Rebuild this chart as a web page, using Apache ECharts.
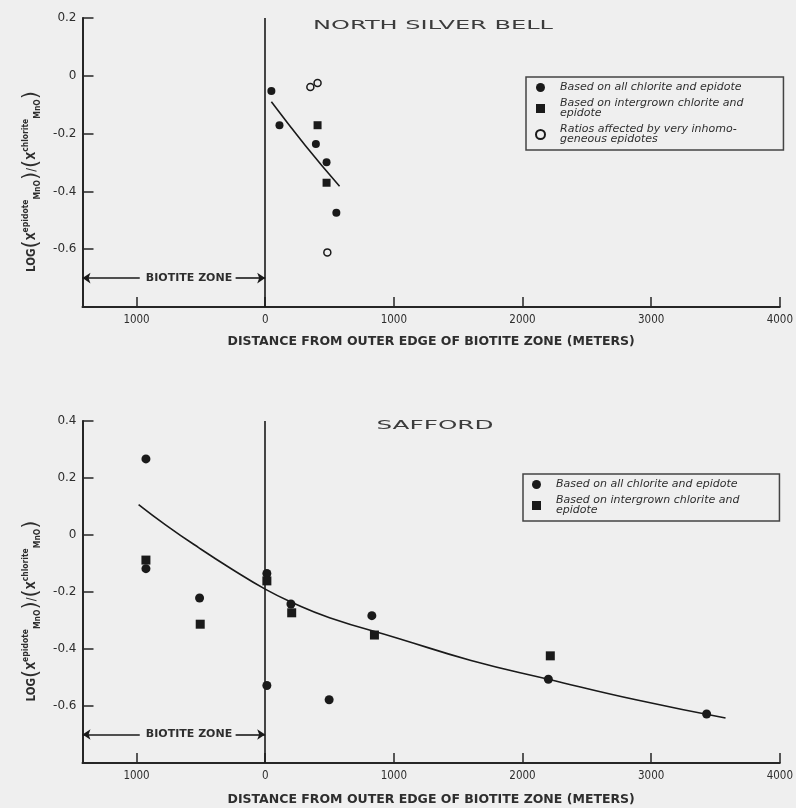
<!DOCTYPE html>
<html><head><meta charset="utf-8">
<script src="https://cdn.jsdelivr.net/npm/echarts@6/dist/echarts.min.js"></script>
<style>html,body{margin:0;padding:0;background:#efefef}#c{width:796px;height:808px}</style>
</head><body><div id="c"></div>
<script>
// ---------- North Silver Bell ----------
const nsbAllX = [48, 111, 394, 477, 553];
const nsbAllY = [-0.053, -0.171, -0.236, -0.299, -0.474];
const nsbInterX = [407, 477];
const nsbInterY = [-0.171, -0.370];
const nsbInhomX = [351, 407, 483];
const nsbInhomY = [-0.039, -0.025, -0.611];
const nsbCurveX = [48, 310, 578];
const nsbCurveY = [-0.09, -0.24, -0.382];
// ---------- Safford ----------
const safAllX = [-927, -927, -510, 13, 13, 200, 497, 829, 2201, 3431];
const safAllY = [0.267, -0.118, -0.221, -0.528, -0.135, -0.242, -0.578, -0.283, -0.506, -0.628];
const safInterX = [-927, -505, 13, 206, 849, 2216];
const safInterY = [-0.088, -0.313, -0.161, -0.273, -0.351, -0.424];
const safCurveX = [-984, -772, -515, -258, 0, 200, 500, 1029, 1600, 2201, 2900, 3578];
const safCurveY = [0.107, 0.035, -0.045, -0.12, -0.19, -0.235, -0.29, -0.362, -0.44, -0.506, -0.58, -0.642];
// ---------- axes / text ----------
const xTickValues = [-1000, 0, 1000, 2000, 3000, 4000];
const xRange = [-1420, 4000];
const nsbYRange = [-0.8, 0.2];
const safYRange = [-0.8, 0.4];
const yStep = 0.2;
const biotiteLevel = -0.7;
const biotiteArrowLeft = [-975, -1420];
const biotiteArrowRight = [-230, 0];
const biotiteLabelX = -592;
const titles = ['NORTH SILVER BELL', 'SAFFORD'];
const xName = 'DISTANCE FROM OUTER EDGE OF BIOTITE ZONE (METERS)';
const seriesNames = ['Based on all chlorite and epidote', 'Based on intergrown chlorite and\nepidote', 'Ratios affected by very inhomo-\ngeneous epidotes'];
const zoneLabel = 'BIOTITE ZONE';

const pairs = (xs, ys) => xs.map((x, i) => [x, ys[i]]);
const INK = '#1a1a1a';
const TXT = '#2e2e2e';
const narrow = "'Liberation Sans Narrow','DejaVu Sans Condensed',sans-serif";

const yName = '{t|LOG}{p|(}{t|X}{s|epidote}{d|MnO}{p|)}{t|/}{p|(}{t|X}{s|chlorite}{d|MnO}{p|)}';
const yNameStyle = {
  padding: [0, 38, 0, 0],
  rich: {
    t: {fontSize: 11.5, fontWeight: 'bold', fontFamily: "'DejaVu Sans Condensed',sans-serif", color: TXT},
    p: {fontSize: 21, fontFamily: "'DejaVu Sans',sans-serif", color: TXT},
    s: {fontSize: 8.5, fontWeight: 'bold', fontFamily: "'DejaVu Sans Condensed',sans-serif", verticalAlign: 'top', color: TXT},
    d: {fontSize: 8.5, fontWeight: 'bold', fontFamily: "'DejaVu Sans Condensed',sans-serif", verticalAlign: 'bottom', color: TXT}
  }
};

function xAxisCfg(gridIndex, gap) {
  return {
    type: 'value', gridIndex, min: xRange[0], max: xRange[1],
    name: xName, nameLocation: 'middle', nameGap: gap,
    nameTextStyle: {fontSize: 12.5, fontWeight: 'bold', fontFamily: "'DejaVu Sans',sans-serif", color: TXT},
    axisLine: {onZero: false, lineStyle: {color: '#262626', width: 2}},
    axisTick: {inside: true, length: 10, customValues: xTickValues, lineStyle: {color: '#262626', width: 1.5}},
    axisLabel: {customValues: xTickValues, margin: 7, fontSize: 11.5, fontFamily: narrow, color: TXT,
      formatter: v => String(Math.abs(v))},
    splitLine: {show: false}
  };
}
function yAxisCfg(gridIndex, range) {
  return {
    type: 'value', gridIndex, min: range[0], max: range[1], interval: yStep,
    name: yName, nameLocation: 'middle', nameRotate: 90, nameGap: 36, nameTextStyle: yNameStyle,
    axisLine: {onZero: false, lineStyle: {color: '#262626', width: 2}},
    axisTick: {inside: true, length: 11, lineStyle: {color: '#262626', width: 1.5}},
    axisLabel: {margin: 6, fontSize: 12, fontFamily: "'DejaVu Sans',sans-serif", color: TXT,
      formatter: v => Math.abs(v - range[0]) < 1e-6 ? '' : (Math.abs(v) < 1e-9 ? '0' : v.toFixed(1))},
    splitLine: {show: false}
  };
}
function curveSeries(idx, xs, ys) {
  return {
    type: 'line', xAxisIndex: idx, yAxisIndex: idx, data: pairs(xs, ys),
    smooth: true, showSymbol: false, symbol: 'none', silent: true,
    lineStyle: {color: INK, width: 1.6}, z: 1,
    markLine: {
      silent: true, symbol: ['none', 'none'], symbolSize: 8, animation: false,
      label: {show: false},
      lineStyle: {color: INK, width: 1.6, type: 'solid'},
      data: [
        {xAxis: 0},
        [{coord: [biotiteArrowLeft[0], biotiteLevel], symbol: 'none'}, {coord: [biotiteArrowLeft[1], biotiteLevel], symbol: 'arrow'}],
        [{coord: [biotiteArrowRight[0], biotiteLevel], symbol: 'none'}, {coord: [biotiteArrowRight[1], biotiteLevel], symbol: 'arrow'}]
      ]
    },
    markPoint: {
      silent: true, symbol: 'rect', symbolSize: 1, itemStyle: {color: 'rgba(0,0,0,0)'},
      label: {show: true, position: 'inside', formatter: zoneLabel, fontSize: 11, fontWeight: 'bold',
        fontFamily: "'DejaVu Sans',sans-serif", color: TXT},
      data: [{coord: [biotiteLabelX, biotiteLevel]}]
    }
  };
}
function scatter(idx, name, xs, ys, symbol, size, open) {
  return {
    type: 'scatter', name, xAxisIndex: idx, yAxisIndex: idx, data: pairs(xs, ys),
    symbol, symbolSize: size, z: 3,
    itemStyle: open ? {color: '#efefef', borderColor: INK, borderWidth: 1.5, opacity: 1} : {color: INK, opacity: 1}
  };
}
const legendCommon = {
  orient: 'vertical', selectedMode: false, itemWidth: 9, itemHeight: 9, itemGap: 5,
  borderColor: '#444', borderWidth: 1.5, borderRadius: 0,
  textStyle: {fontSize: 11, fontStyle: 'italic', fontFamily: "'DejaVu Sans',sans-serif", color: TXT, lineHeight: 10, padding: [0, 0, 0, 10]}
};

const chart = echarts.init(document.getElementById('c'), null, {renderer: 'canvas'});
chart.setOption({
  backgroundColor: '#efefef',
  animation: false,
  grid: [
    {left: 82.5, top: 18, width: 704.5, height: 289, containLabel: false},
    {left: 82.5, top: 421, width: 702.5, height: 342, containLabel: false}
  ],
  xAxis: [xAxisCfg(0, 28), xAxisCfg(1, 30)],
  yAxis: [yAxisCfg(0, nsbYRange), yAxisCfg(1, safYRange)],
  legend: [
    Object.assign({}, legendCommon, {left: 526, top: 77, padding: [5, 40, 5, 9],
      data: [{name: seriesNames[0], icon: 'circle'}, {name: seriesNames[1], icon: 'rect'}, {name: seriesNames[2], icon: 'circle'}]}),
    Object.assign({}, legendCommon, {left: 523, top: 474, padding: [5, 40, 5, 9],
      data: [{name: seriesNames[0], icon: 'circle'}, {name: seriesNames[1], icon: 'rect'}]})
  ],
  graphic: [
    {type: 'text', x: 433, y: 26, scaleX: 1.85, silent: true,
      style: {text: titles[0], fontSize: 13, fontFamily: "'DejaVu Sans',sans-serif", fill: '#3c3c3c', align: 'center', verticalAlign: 'middle'}},
    {type: 'text', x: 435, y: 426, scaleX: 1.9, silent: true,
      style: {text: titles[1], fontSize: 13, fontFamily: "'DejaVu Sans',sans-serif", fill: '#3c3c3c', align: 'center', verticalAlign: 'middle'}}
  ],
  series: [
    curveSeries(0, nsbCurveX, nsbCurveY),
    scatter(0, seriesNames[0], nsbAllX, nsbAllY, 'circle', 8, false),
    scatter(0, seriesNames[1], nsbInterX, nsbInterY, 'rect', 8, false),
    scatter(0, seriesNames[2], nsbInhomX, nsbInhomY, 'circle', 7, true),
    curveSeries(1, safCurveX, safCurveY),
    scatter(1, seriesNames[0], safAllX, safAllY, 'circle', 9, false),
    scatter(1, seriesNames[1], safInterX, safInterY, 'rect', 9, false)
  ]
});
</script></body></html>
